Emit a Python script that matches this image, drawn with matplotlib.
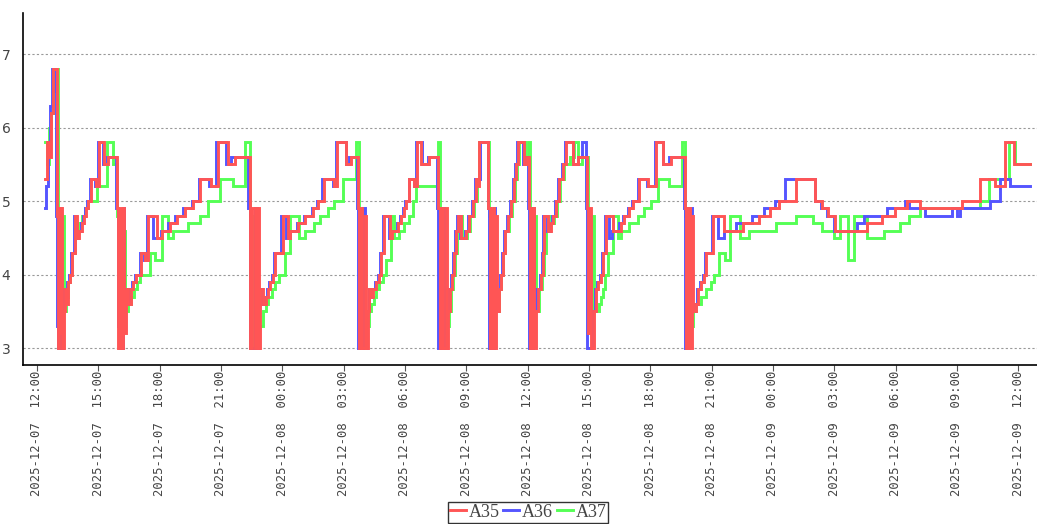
import pandas as pd
import matplotlib
matplotlib.use('Agg')
import matplotlib.pyplot as plt
import matplotlib.dates as mdates

# Inicio de la serie (minutos contados desde aquí)
inicio = pd.Timestamp('2025-12-07 12:00')

# Serie A35 (rojo): minuto del cambio y valor
a35_min = [24, 29, 35, 41, 47, 59, 62, 65, 68, 71, 74, 79, 82, 85, 91, 97, 103, 112, 118, 124, 132, 138, 144, 150, 159, 174, 182, 197, 209,
           235, 238, 241, 247, 253, 256, 262, 268, 276, 282, 291, 306, 318, 326, 353, 368, 391, 412, 435, 459, 479, 512, 532, 562, 582,
           624, 626, 632, 641, 647, 653, 656, 662, 671, 679, 685, 694, 700, 721, 738, 744, 765, 788, 809, 826, 841, 871, 882, 906, 921,
           941, 944, 950, 953, 962, 965, 971, 974, 979, 985, 994, 1003, 1009, 1018, 1035, 1041, 1059, 1068, 1076, 1082, 1091, 1106, 1115, 1126, 1150,
           1176, 1182, 1188, 1191, 1200, 1203, 1206, 1212, 1218, 1223, 1229, 1235, 1244, 1259, 1268, 1279, 1288, 1294, 1297,
           1323, 1329, 1335, 1341, 1347, 1350, 1356, 1362, 1368, 1374, 1382, 1391, 1400, 1406, 1412, 1429, 1438,
           1444, 1447, 1453, 1459, 1465, 1470, 1479, 1485, 1488, 1500, 1509, 1515, 1523, 1532, 1544, 1553, 1573, 1588,
           1615, 1618, 1623, 1626, 1635, 1641, 1647, 1656, 1662, 1671, 1691, 1715, 1723, 1738, 1750, 1768, 1794, 1818, 1838, 1862,
           1903, 1906, 1912, 1918, 1923, 1926, 1935, 1941, 1950, 1959, 1965, 1985, 2015, 2073, 2118, 2150, 2179, 2229, 2282, 2303, 2323, 2341,
           2435, 2479, 2518, 2553, 2591, 2715, 2768, 2812, 2841, 2867, 2915]
a35_val = [5.3, 5.8, 5.6, 6.2, 6.8, 4.8, 3.0, 4.9, 3.2, 4.9, 3.0, 3.5, 3.8, 3.6, 3.9, 4.0, 4.3, 4.8, 4.5, 4.6, 4.7, 4.8, 4.9, 5.0, 5.3, 5.2, 5.8, 5.5, 5.6,
           4.9, 3.0, 4.9, 3.0, 4.9, 3.2, 3.8, 3.6, 3.8, 3.9, 4.0, 4.3, 4.2, 4.8, 4.5, 4.6, 4.7, 4.8, 4.9, 5.0, 5.3, 5.2, 5.8, 5.5, 5.6,
           4.9, 3.0, 4.9, 3.0, 4.9, 3.0, 3.8, 3.6, 3.7, 3.8, 3.9, 4.0, 4.3, 4.8, 4.5, 4.6, 4.7, 4.8, 4.9, 5.0, 5.3, 5.2, 5.8, 5.5, 5.6,
           4.9, 3.0, 4.9, 3.0, 4.8, 3.0, 3.5, 3.8, 3.7, 3.8, 3.9, 4.0, 4.3, 4.8, 4.5, 4.6, 4.7, 4.8, 4.9, 5.0, 5.3, 5.2, 5.8, 5.5, 5.6,
           4.9, 3.0, 4.9, 3.0, 4.9, 3.0, 3.5, 3.8, 4.0, 4.3, 4.6, 4.8, 4.5, 4.6, 4.8, 5.0, 5.3, 5.2, 5.8,
           4.9, 3.0, 4.9, 3.0, 4.8, 3.5, 3.8, 4.0, 4.3, 4.6, 4.8, 5.0, 5.3, 5.5, 5.8, 5.5, 5.6,
           4.9, 3.0, 4.9, 3.0, 3.5, 3.8, 4.0, 4.3, 4.8, 4.6, 4.7, 4.8, 5.0, 5.3, 5.5, 5.8, 5.5, 5.6,
           4.9, 3.2, 4.9, 3.0, 3.5, 3.8, 3.9, 4.0, 4.3, 4.8, 4.6, 4.7, 4.8, 4.9, 5.0, 5.3, 5.2, 5.8, 5.5, 5.6,
           4.9, 3.0, 4.9, 3.0, 4.8, 3.5, 3.6, 3.8, 3.9, 4.0, 4.3, 4.8, 4.6, 4.7, 4.8, 4.9, 5.0, 5.3, 5.0, 4.9, 4.8, 4.6,
           4.7, 4.8, 4.9, 5.0, 4.9, 5.0, 5.3, 5.2, 5.8, 5.5, 5.5]

# Serie A36 (azul)
a36_min = [24, 27, 32, 38, 44, 53, 56, 59, 62, 68, 71, 76, 79, 85, 88, 94, 100, 109, 115, 121, 129, 135, 141, 147, 156, 171, 179, 194, 206,
           232, 238, 244, 253, 256, 262, 271, 279, 288, 303, 315, 323, 341, 365, 385, 406, 429, 456, 476, 506, 526, 556, 570,
           618, 626, 641, 647, 653, 659, 668, 676, 682, 691, 697, 715, 732, 744, 762, 785, 806, 823, 838, 868, 879, 906, 915,
           938, 941, 956, 962, 968, 974, 979, 982, 991, 1000, 1006, 1015, 1032, 1038, 1056, 1065, 1073, 1079, 1091, 1106, 1112, 1129, 1147,
           1173, 1176, 1188, 1194, 1203, 1209, 1215, 1220, 1226, 1232, 1241, 1256, 1265, 1276, 1285, 1300,
           1323, 1326, 1341, 1344, 1353, 1359, 1365, 1371, 1379, 1388, 1397, 1403, 1409, 1426, 1435,
           1441, 1444, 1456, 1459, 1465, 1476, 1482, 1485, 1497, 1506, 1512, 1520, 1529, 1541, 1550, 1573, 1588, 1600,
           1612, 1615, 1629, 1638, 1644, 1653, 1659, 1668, 1680, 1688, 1709, 1720, 1735, 1747, 1765, 1791, 1815, 1838, 1856,
           1900, 1903, 1915, 1921, 1932, 1938, 1947, 1956, 1962, 1982, 2000, 2015, 2053, 2100, 2135, 2165, 2194, 2282, 2300, 2320, 2338,
           2406, 2426, 2494, 2547, 2559, 2606, 2685, 2700, 2709, 2797, 2826, 2856, 2915]
a36_val = [4.9, 5.2, 5.8, 6.3, 6.8, 6.5, 4.8, 3.3, 3.0, 4.9, 3.0, 3.5, 3.8, 3.7, 3.9, 4.0, 4.3, 4.8, 4.5, 4.6, 4.7, 4.8, 4.9, 5.0, 5.3, 5.2, 5.8, 5.5, 5.6,
           4.9, 3.3, 3.0, 4.9, 3.8, 3.6, 3.8, 3.9, 4.0, 4.3, 4.2, 4.8, 4.5, 4.6, 4.7, 4.8, 4.9, 5.0, 5.3, 5.2, 5.8, 5.5, 5.6,
           4.9, 3.0, 4.9, 3.0, 3.8, 3.6, 3.7, 3.8, 3.9, 4.0, 4.3, 4.8, 4.5, 4.6, 4.7, 4.8, 4.9, 5.0, 5.3, 5.2, 5.8, 5.5, 5.6,
           4.9, 3.0, 4.9, 3.0, 3.5, 3.8, 3.7, 3.8, 3.9, 4.0, 4.3, 4.8, 4.5, 4.6, 4.7, 4.8, 4.9, 5.0, 5.3, 5.2, 5.8, 5.5, 5.6,
           4.9, 3.0, 4.9, 3.0, 3.5, 3.8, 4.0, 4.3, 4.6, 4.8, 4.5, 4.6, 4.8, 5.0, 5.3, 5.8,
           4.9, 3.0, 4.9, 3.5, 3.8, 4.0, 4.3, 4.6, 4.8, 5.0, 5.3, 5.5, 5.8, 5.5, 5.6,
           4.9, 3.0, 4.9, 3.5, 3.8, 4.0, 4.3, 4.8, 4.6, 4.7, 4.8, 5.0, 5.3, 5.5, 5.8, 5.5, 5.6, 5.8,
           4.9, 3.0, 3.5, 3.8, 3.9, 4.0, 4.3, 4.8, 4.5, 4.6, 4.7, 4.8, 4.9, 5.0, 5.3, 5.2, 5.8, 5.5, 5.6,
           4.9, 3.0, 4.9, 3.5, 3.6, 3.8, 3.9, 4.0, 4.3, 4.8, 4.5, 4.6, 4.7, 4.8, 4.9, 5.0, 5.3, 5.0, 4.9, 4.8, 4.6,
           4.7, 4.8, 4.9, 5.0, 4.9, 4.8, 4.9, 4.8, 4.9, 5.0, 5.3, 5.2, 5.2]

# Serie A37 (verde)
a37_min = [24, 29, 35, 41, 47, 53, 62, 68, 74, 79, 85, 91, 97, 103, 112, 124, 132, 141, 150, 176, 206, 224,
           235, 241, 250, 259, 268, 276, 285, 294, 303, 332, 347, 368, 385, 400, 444, 479, 503, 538, 576, 612,
           626, 632, 641, 647, 662, 671, 679, 691, 700, 709, 729, 744, 768, 788, 812, 832, 853, 871, 897, 935,
           944, 950, 956, 962, 974, 979, 988, 994, 1003, 1015, 1023, 1038, 1047, 1062, 1076, 1091, 1103, 1112, 1176,
           1182, 1188, 1194, 1200, 1209, 1215, 1220, 1226, 1232, 1238, 1247, 1262, 1271, 1282, 1291, 1297,
           1326, 1332, 1338, 1344, 1356, 1362, 1368, 1374, 1385, 1394, 1403, 1409, 1415, 1432, 1441,
           1447, 1453, 1459, 1465, 1473, 1482, 1488, 1494, 1503, 1512, 1518, 1526, 1535, 1547, 1565, 1576, 1588, 1600,
           1618, 1623, 1629, 1635, 1641, 1650, 1656, 1662, 1668, 1676, 1691, 1706, 1715, 1738, 1765, 1782, 1803, 1823, 1856, 1894,
           1903, 1906, 1912, 1918, 1926, 1935, 1950, 1965, 1979, 1988, 2003, 2018, 2035, 2062, 2091, 2170, 2229, 2279, 2303, 2338,
           2356, 2379, 2397, 2435, 2485, 2532, 2559, 2591, 2768, 2794, 2853, 2871, 2915]
a37_val = [5.8, 5.5, 6.0, 6.2, 6.5, 6.8, 4.8, 3.2, 4.8, 3.5, 3.7, 3.9, 4.0, 4.3, 4.6, 4.7, 4.8, 4.9, 5.0, 5.2, 5.8, 5.5,
           4.8, 3.0, 4.6, 3.5, 3.6, 3.7, 3.8, 3.9, 4.0, 4.3, 4.2, 4.8, 4.5, 4.6, 4.7, 4.8, 5.0, 5.3, 5.2, 5.8,
           4.8, 3.0, 4.8, 3.3, 3.5, 3.6, 3.7, 3.8, 3.9, 4.0, 4.3, 4.8, 4.5, 4.6, 4.7, 4.8, 4.9, 5.0, 5.3, 5.8,
           4.8, 3.2, 4.5, 3.3, 3.5, 3.6, 3.7, 3.8, 3.9, 4.0, 4.2, 4.8, 4.5, 4.6, 4.7, 4.8, 5.0, 5.2, 5.8,
           4.8, 3.2, 4.8, 3.3, 3.5, 3.8, 4.0, 4.3, 4.6, 4.8, 4.5, 4.6, 4.8, 5.0, 5.3, 5.8,
           4.8, 3.5, 4.8, 3.5, 3.8, 4.0, 4.3, 4.6, 4.8, 5.0, 5.3, 5.5, 5.8, 5.5, 5.8,
           4.8, 3.5, 4.8, 3.5, 3.8, 4.0, 4.3, 4.6, 4.8, 4.7, 4.8, 5.0, 5.3, 5.5, 5.6, 5.8, 5.5, 5.6,
           4.8, 3.3, 4.8, 3.5, 3.5, 3.6, 3.7, 3.8, 4.0, 4.3, 4.8, 4.5, 4.6, 4.7, 4.8, 4.9, 5.0, 5.3, 5.2, 5.8,
           4.8, 3.2, 4.8, 3.3, 3.5, 3.6, 3.7, 3.8, 3.9, 4.0, 4.3, 4.2, 4.8, 4.5, 4.6, 4.7, 4.8, 4.7, 4.6, 4.5,
           4.8, 4.2, 4.8, 4.5, 4.6, 4.7, 4.8, 4.9, 5.0, 5.3, 5.8, 5.5, 5.5]

series = ['A35', 'A36', 'A37']
colores = ['#ff5555', '#5555ff', '#55ff55']


def a_fechas(minutos):
    return inicio + pd.to_timedelta(minutos, unit='min')


fig = plt.figure(figsize=(10.37, 5.24), dpi=100)
ax = fig.add_axes([23 / 1037, 1 - 365 / 524, 1014 / 1037, 352 / 524])

datos = [(a35_min, a35_val), (a36_min, a36_val), (a37_min, a37_val)]
lineas = []
# se dibuja al revés para que A35 quede encima
for i in [2, 1, 0]:
    mins, vals = datos[i]
    ln, = ax.plot(a_fechas(mins), vals, drawstyle='steps-post', color=colores[i],
                  lw=2.1, label=series[i], solid_joinstyle='miter', zorder=3 + (2 - i))
    lineas.append(ln)
lineas = lineas[::-1]

ax.set_xlim(inicio - pd.Timedelta(minutes=41), inicio + pd.Timedelta(minutes=2935))
ax.set_ylim(2.77, 7.56)
ax.set_yticks([3, 4, 5, 6, 7])
ax.yaxis.grid(True, linestyle=(0, (2, 2)), color='#999999', lw=0.8)
ax.set_axisbelow(True)

ax.xaxis.set_major_locator(mdates.HourLocator(byhour=[0, 3, 6, 9, 12, 15, 18, 21]))
ax.xaxis.set_major_formatter(mdates.DateFormatter('%Y-%m-%d  %H:%M'))
for lab in ax.get_xticklabels():
    lab.set_rotation(90)
    lab.set_fontfamily('DejaVu Sans Mono')
    lab.set_fontsize(8.8)
    lab.set_color('#444444')
ax.tick_params(axis='x', length=4, width=0.8, color='#555555', pad=0)
ax.tick_params(axis='y', length=0, pad=9, labelsize=10, labelcolor='#444444')

for s in ['top', 'right']:
    ax.spines[s].set_visible(False)
ax.spines['left'].set_linewidth(1.2)
ax.spines['bottom'].set_linewidth(1.2)

leg = fig.legend(lineas, series, loc='upper center', bbox_to_anchor=(528 / 1037, 1 - 502 / 524),
                 ncol=3, handlelength=0.9, handletextpad=0.15, columnspacing=0.2,
                 borderpad=0.1, borderaxespad=0, fancybox=False, frameon=True,
                 prop={'family': 'Liberation Serif', 'size': 13})
leg.get_frame().set_edgecolor('black')
leg.get_frame().set_linewidth(1.0)
for t in leg.get_texts():
    t.set_color('#444444')

fig.savefig('out.png', dpi=100)
